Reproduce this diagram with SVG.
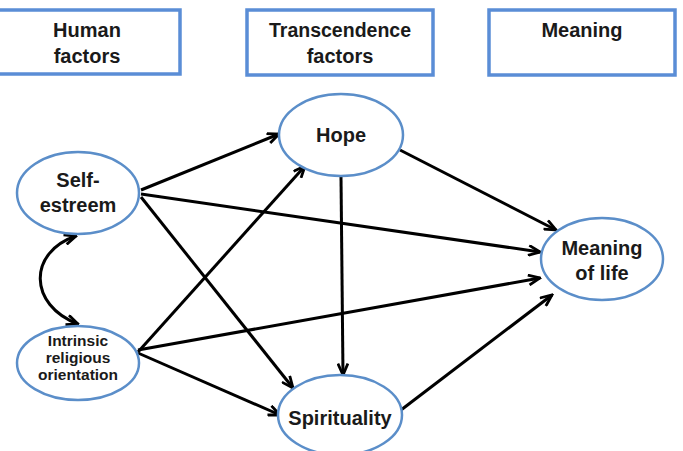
<svg xmlns="http://www.w3.org/2000/svg" width="683" height="451" viewBox="0 0 683 451">
<style>
.box{fill:#fff;stroke:#5a8dd6;stroke-width:3.5}
.node{fill:#fff;stroke:#5b8ec9;stroke-width:2.5}
.t{font-family:"Liberation Sans",Arial,sans-serif;font-weight:bold;font-size:20px;fill:#1a1a1a;text-anchor:middle}
.s{font-size:15.5px}
.c{fill:none;stroke:#000;stroke-width:3}
</style>
<defs>
<marker id="ah" viewBox="0 0 14 12" refX="12.5" refY="6" markerWidth="14" markerHeight="12" markerUnits="userSpaceOnUse" orient="auto-start-reverse">
<path d="M1,1 L12.5,6 L1,11" fill="none" stroke="#000" stroke-width="2.8"/>
</marker>
</defs>
<rect width="683" height="451" fill="#fff"/>
<g id="hdr-human"><rect class="box" x="-6" y="10" width="186" height="64"/><text class="t" x="87" y="37">Human</text><text class="t" x="87" y="63">factors</text></g>
<g id="hdr-trans"><rect class="box" x="247" y="10" width="186" height="65"/><text class="t" x="340" y="37" style="font-size:19.5px">Transcendence</text><text class="t" x="340" y="63">factors</text></g>
<g id="hdr-meaning"><rect class="box" x="489" y="10" width="186" height="65"/><text class="t" x="582" y="37">Meaning</text></g>
<g id="connectors">
<path class="c" marker-end="url(#ah)" d="M141,190 L279,134"/>
<path class="c" marker-end="url(#ah)" d="M141,194 L540,252"/>
<path class="c" marker-end="url(#ah)" d="M141,197 L293,388"/>
<path class="c" marker-end="url(#ah)" d="M138,352 L305,166"/>
<path class="c" marker-end="url(#ah)" d="M138,350 L540,278"/>
<path class="c" marker-end="url(#ah)" d="M138,353 L280,415"/>
<path class="c" marker-end="url(#ah)" d="M341,177 L343,375"/>
<path class="c" marker-end="url(#ah)" d="M400,150 L556,230"/>
<path class="c" marker-end="url(#ah)" d="M401,410 L552,295"/>
<path class="c" marker-start="url(#ah)" marker-end="url(#ah)" d="M76,236 C28,252 28,305 78,324"/>
</g>
<g id="n-self"><ellipse class="node" cx="78" cy="193" rx="61" ry="41"/><text class="t" x="78" y="187">Self-</text><text class="t" x="78" y="212">estreem</text></g>
<g id="n-intrinsic"><ellipse class="node" cx="78" cy="363" rx="61" ry="37"/><text class="t s" x="78" y="346">Intrinsic</text><text class="t s" x="78" y="363">religious</text><text class="t s" x="78" y="380">orientation</text></g>
<g id="n-hope"><ellipse class="node" cx="341" cy="135" rx="62" ry="41"/><text class="t" x="341" y="142">Hope</text></g>
<g id="n-spirit"><ellipse class="node" cx="340" cy="415" rx="62" ry="40"/><text class="t" x="340" y="425">Spirituality</text></g>
<g id="n-meaning"><ellipse class="node" cx="602" cy="259" rx="61" ry="41"/><text class="t" x="602" y="255">Meaning</text><text class="t" x="602" y="280">of life</text></g>
</svg>
